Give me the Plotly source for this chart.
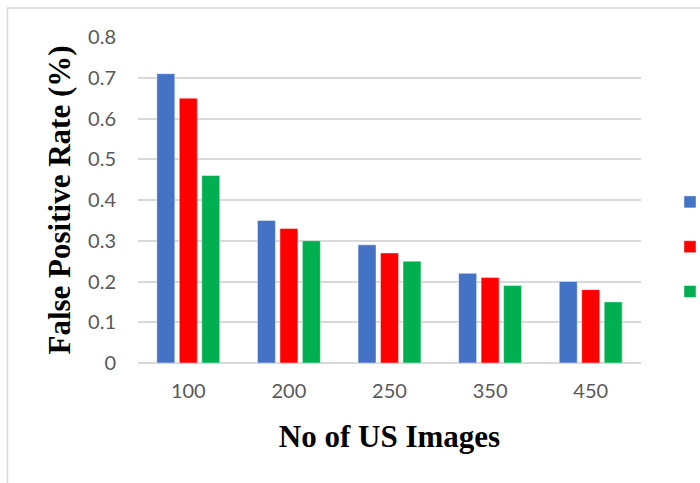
import plotly.graph_objects as go

# Number of ultrasound images per experiment
categories = ["100", "200", "250", "350", "450"]

# False positive rate for each method (legend keys shown as colour swatches only)
series_names = [" ", "  ", "   "]
fpr_series1 = [0.71, 0.35, 0.29, 0.22, 0.20]
fpr_series2 = [0.65, 0.33, 0.27, 0.21, 0.18]
fpr_series3 = [0.46, 0.30, 0.25, 0.19, 0.15]

y_ticks = [0, 0.1, 0.2, 0.3, 0.4, 0.5, 0.6, 0.7, 0.8]
y_tick_text = ["0", "0.1", "0.2", "0.3", "0.4", "0.5", "0.6", "0.7", "0.8"]

colors = ["#4472C4", "#FF0000", "#00B050"]

fig = go.Figure()
for i, (name, vals, col) in enumerate(zip(series_names, [fpr_series1, fpr_series2, fpr_series3], colors)):
    fig.add_trace(go.Bar(
        x=categories, y=vals, name=name, legendgroup=f"g{i}",
        marker=dict(color=col, line=dict(color="rgba(255,255,255,0.45)", width=1)),
    ))

W, H = 700, 483
ml, mr, mt, mb = 138, 59, 37, 120
pw, ph = W - ml - mr, H - mt - mb

def px_to_paper_x(px):
    return (px - ml) / pw

def py_to_paper_y(py):
    return 1 - (py - mt) / ph

tick_font = dict(family="Lato, Open Sans, sans-serif", size=20, color="#595959")
title_font = dict(family="Liberation Serif, Times New Roman, serif", size=31, color="#000000")

fig.update_layout(
    width=W, height=H,
    margin=dict(l=ml, r=mr, t=mt, b=mb, autoexpand=False),
    paper_bgcolor="white", plot_bgcolor="white",
    barmode="group", bargap=0.33, bargroupgap=0.2,
    showlegend=True,
    legend=dict(
        xref="container", yref="container",
        x=670 / W, y=1 - 185 / H, xanchor="left", yanchor="top",
        traceorder="grouped", tracegroupgap=21,
        font=dict(family="Lato, sans-serif", size=16, color="#595959"),
        bgcolor="rgba(0,0,0,0)",
    ),
    xaxis=dict(
        tickfont=tick_font, showgrid=False, showline=False, ticks="",
        ticklabelstandoff=14,
        title=dict(text="<b>No of US Images</b>", font=title_font, standoff=24),
    ),
    yaxis=dict(
        range=[0, 0.8], tickvals=y_ticks, ticktext=y_tick_text,
        tickfont=tick_font, showgrid=True, gridcolor="#D9D9D9", gridwidth=1.5,
        zeroline=True, zerolinecolor="#D9D9D9", zerolinewidth=1.5,
        showline=False, ticks="", ticklabelstandoff=21,
        title=dict(text="<b>False Positive Rate (%)</b>", font=title_font, standoff=8),
    ),
    shapes=[
        # chart frame, running past the right and bottom edges of the page
        dict(type="rect", xref="paper", yref="paper",
             x0=px_to_paper_x(7.5), y0=py_to_paper_y(500),
             x1=px_to_paper_x(720), y1=py_to_paper_y(8),
             line=dict(color="#D9D9D9", width=1.5), fillcolor="rgba(0,0,0,0)", layer="below"),
    ],
)

fig.write_html("out.html")
